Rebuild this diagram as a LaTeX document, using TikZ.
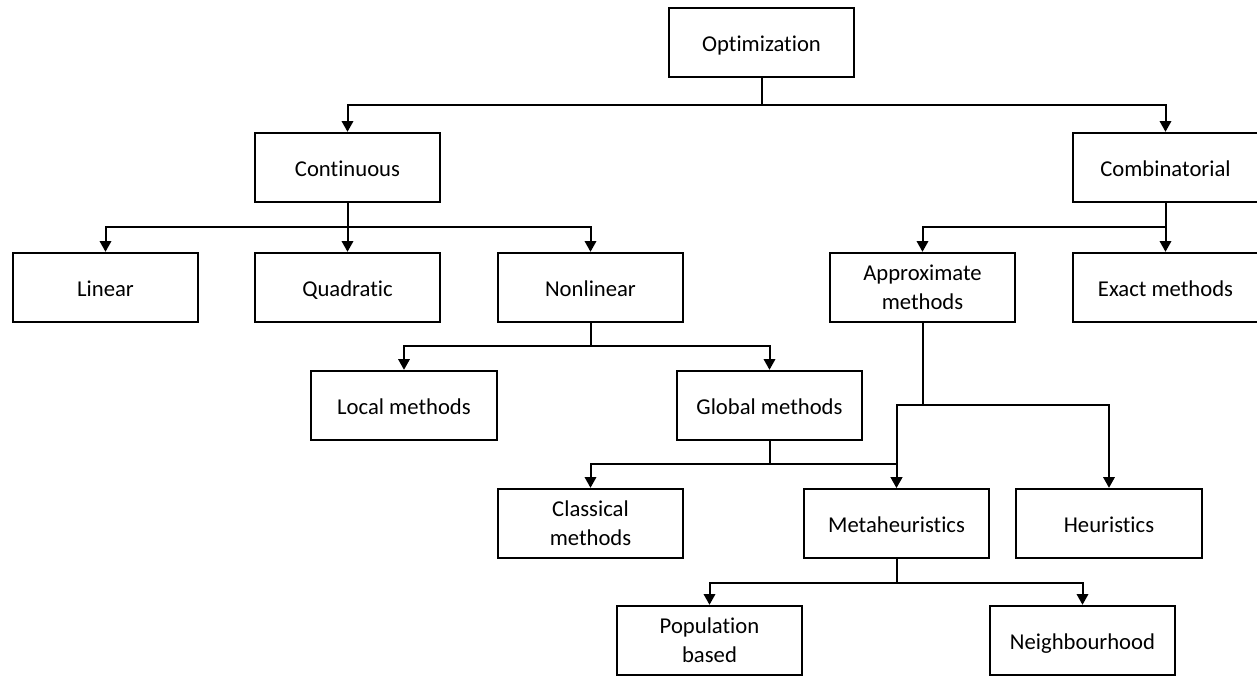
\documentclass[tikz,border=0pt]{standalone}
\usepackage{fontspec}
\setmainfont{Carlito}[Ligatures=NoCommon]
\usepackage{tikz}
\usetikzlibrary{arrows.meta}

\tikzset{
  box/.style={draw,line width=1.5pt,minimum width=139pt,minimum height=52pt,
    inner sep=0pt,align=center,font=\fontsize{17}{21.75}\selectfont},
  oneline/.style={text height=14pt,text depth=1.2pt},
  link/.style={line width=1.5pt,-{Triangle[length=8pt,width=8.5pt]}},
}

\begin{document}
\begin{tikzpicture}[x=0.75pt,y=-0.75pt]
  \useasboundingbox (0,0) rectangle (1257,675);
  % levels of the tree
  \node[box,oneline] (opt) at (761.5,42.5) {Optimization};
  \node[box,oneline] (cont) at (347.5,167.5) {Continuous};
  \node[box,oneline] (comb) at (1165.5,167.5) {Combinatorial};
  \node[box,oneline] (lin) at (105.5,287.5) {Linear};
  \node[box,oneline] (quad) at (347.5,287.5) {Quadratic};
  \node[box,oneline] (nonlin) at (590.5,287.5) {Nonlinear};
  \node[box] (approx) at (922.5,287.5) {Approximate\\methods};
  \node[box,oneline] (exact) at (1165.5,287.5) {Exact methods};
  \node[box,oneline] (local) at (404,405.5) {Local methods};
  \node[box,oneline] (global) at (769.5,405.5) {Global methods};
  \node[box] (classic) at (590.5,523.5) {Classical\\methods};
  \node[box,oneline] (meta) at (896.5,523.5) {Metaheuristics};
  \node[box,oneline] (heur) at (1109,523.5) {Heuristics};
  \node[box] (pop) at (709.5,640.5) {Population\\based};
  \node[box,oneline] (neigh) at (1082.5,640.5) {Neighbourhood};

  % connectors
  \draw[link] (opt.south) -- ++(0,27) -| (cont.north);
  \draw[link] (opt.south) -- ++(0,27) -| (comb.north);
  \draw[link] (cont.south) -- ++(0,24) -| (lin.north);
  \draw[link] (cont.south) -- (quad.north);
  \draw[link] (cont.south) -- ++(0,24) -| (nonlin.north);
  \draw[link] (comb.south) -- ++(0,24) -| (approx.north);
  \draw[link] (comb.south) -- (exact.north);
  \draw[link] (nonlin.south) -- ++(0,23) -| (local.north);
  \draw[link] (nonlin.south) -- ++(0,23) -| (global.north);
  \draw[link] (global.south) -- ++(0,23) -| (classic.north);
  \draw[link] (global.south) -- ++(0,23) -| (meta.north);
  \draw[link] (approx.south) -- ++(0,82) -| (meta.north);
  \draw[link] (approx.south) -- ++(0,82) -| (heur.north);
  \draw[link] (meta.south) -- ++(0,24) -| (pop.north);
  \draw[link] (meta.south) -- ++(0,24) -| (neigh.north);
\end{tikzpicture}
\end{document}
